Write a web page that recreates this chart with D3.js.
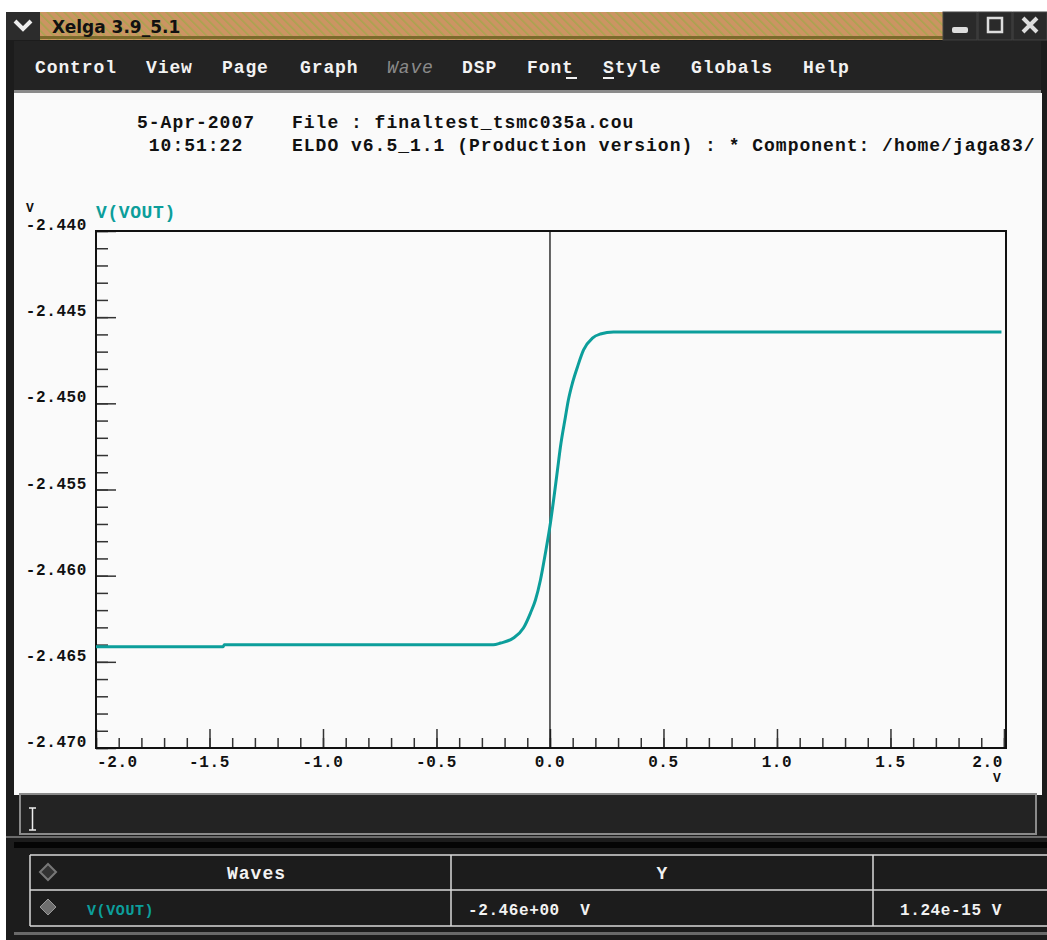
<!DOCTYPE html>
<html>
<head>
<meta charset="utf-8">
<script src="https://cdnjs.cloudflare.com/ajax/libs/d3/7.8.5/d3.min.js"></script>
<style>
  body { margin: 0; background: #fff; }
  svg text { font-family: 'Liberation Mono', 'DejaVu Sans Mono', monospace; font-weight: bold; }
</style>
</head>
<body>
<div id="chart"></div>
<script>
(function() {

  // curve V(VOUT)
  const curveX = [-2.0, -1.44, -1.435, -0.25, -0.218, -0.161, -0.117, -0.086, -0.064, -0.042,
    -0.020, 0.002, 0.020, 0.033, 0.046, 0.068, 0.081, 0.099, 0.121, 0.148, 0.187, 0.222, 0.280, 1.989];
  const curveY = [-2.46412, -2.46412, -2.46401, -2.46401, -2.46391, -2.46362, -2.46304, -2.46217,
    -2.46141, -2.46025, -2.45868, -2.45694, -2.45520, -2.45387, -2.45253, -2.45079, -2.44981,
    -2.44882, -2.44789, -2.44690, -2.44621, -2.44598, -2.44586, -2.44586];

  const xMajor = [-2.0, -1.5, -1.0, -0.5, 0.0, 0.5, 1.0, 1.5, 2.0];
  const xLabels = ['-2.0', '-1.5', '-1.0', '-0.5', '0.0', '0.5', '1.0', '1.5', '2.0'];
  const yMajor = [-2.440, -2.445, -2.450, -2.455, -2.460, -2.465, -2.470];
  const yLabels = ['-2.440', '-2.445', '-2.450', '-2.455', '-2.460', '-2.465', '-2.470'];

  const menuItems = ['Control', 'View', 'Page', 'Graph', 'Wave', 'DSP', 'Font', 'Style', 'Globals', 'Help'];
  const menuX = [35, 146, 222, 300, 387, 462, 527, 603, 691, 803];
  const headerLeft = ['5-Apr-2007', ' 10:51:22'];
  const headerRight = ['File : finaltest_tsmc035a.cou',
    'ELDO v6.5_1.1 (Production version) : * Component: /home/jaga83/'];
  const tableHead = ['Waves', 'Y'];
  const tableRow = ['V(VOUT)', '-2.46e+00  V', '1.24e-15 V'];

  const teal = '#0c9e9b';
  const W = 1047, H = 940;

  const svg = d3.select('#chart').append('svg')
    .attr('width', W)
    .attr('height', H);

  const defs = svg.append('defs');
  const hatch = defs.append('pattern')
    .attr('id', 'hatch')
    .attr('patternUnits', 'userSpaceOnUse')
    .attr('width', 6)
    .attr('height', 6)
    .attr('patternTransform', 'rotate(-45)');
  hatch.append('rect').attr('width', 6).attr('height', 6).attr('fill', '#cc9463');
  hatch.append('rect').attr('width', 1.6).attr('height', 6).attr('fill', '#a8a44e');

  // window frame
  svg.append('rect').attr('x', 6).attr('y', 12).attr('width', W - 6).attr('height', H - 12).attr('fill', '#1c1c1c');

  // title bar
  svg.append('rect').attr('x', 40).attr('y', 12).attr('width', 903).attr('height', 28).attr('fill', 'url(#hatch)');
  svg.append('rect').attr('x', 40).attr('y', 36).attr('width', 903).attr('height', 3).attr('fill', '#7d6a2c');
  svg.append('rect').attr('x', 6).attr('y', 12).attr('width', 34).attr('height', 28).attr('fill', '#2c2c2c');
  svg.append('path')
    .attr('d', 'M15,21 L23,29 L31,21')
    .attr('fill', 'none').attr('stroke', '#eee').attr('stroke-width', 4);
  svg.append('text')
    .attr('x', 52).attr('y', 33)
    .style('font-family', "'DejaVu Sans', sans-serif")
    .style('font-size', '17px')
    .attr('fill', '#111')
    .text('Xelga 3.9_5.1');
  [943, 978, 1013].forEach((bx, i) => {
    svg.append('rect').attr('x', bx).attr('y', 12).attr('width', 34).attr('height', 28)
      .attr('fill', '#2a2a2a').attr('stroke', '#444');
    if (i === 0) svg.append('rect').attr('x', bx + 9).attr('y', 27).attr('width', 16).attr('height', 6).attr('rx', 2).attr('fill', '#ddd');
    if (i === 1) svg.append('rect').attr('x', bx + 10).attr('y', 18).attr('width', 14).attr('height', 14)
      .attr('fill', 'none').attr('stroke', '#ddd').attr('stroke-width', 2.5);
    if (i === 2) svg.append('path').attr('d', `M${bx + 10},18 L${bx + 24},32 M${bx + 24},18 L${bx + 10},32`)
      .attr('stroke', '#ddd').attr('stroke-width', 4);
  });

  // menu bar
  svg.append('rect').attr('x', 14).attr('y', 41).attr('width', W - 20).attr('height', 50).attr('fill', '#232323');
  svg.append('rect').attr('x', 14).attr('y', 90).attr('width', W - 20).attr('height', 3).attr('fill', '#8a8a8a');
  menuItems.forEach((m, i) => {
    svg.append('text')
      .attr('x', menuX[i]).attr('y', 73)
      .style('font-size', '18px')
      .style('letter-spacing', '0.9px')
      .attr('fill', m === 'Wave' ? '#8a8a8a' : '#f2f2f2')
      .style('font-style', m === 'Wave' ? 'italic' : null)
      .style('font-weight', m === 'Wave' ? 'normal' : null)
      .text(m);
  });
  // mnemonic underlines
  svg.append('rect').attr('x', 566).attr('y', 77).attr('width', 11).attr('height', 2).attr('fill', '#f2f2f2');
  svg.append('rect').attr('x', 603).attr('y', 77).attr('width', 11).attr('height', 2).attr('fill', '#f2f2f2');

  // white page
  svg.append('rect').attr('x', 14).attr('y', 93).attr('width', 1028).attr('height', 702).attr('fill', '#fafafa');

  // header text
  headerLeft.forEach((t, i) => {
    svg.append('text').attr('x', 137).attr('y', 128 + i * 23)
      .style('font-size', '18px').style('letter-spacing', '1px').style('white-space', 'pre')
      .attr('fill', '#111').text(t);
  });
  headerRight.forEach((t, i) => {
    svg.append('text').attr('x', 292).attr('y', 128 + i * 23)
      .style('font-size', '18px').style('letter-spacing', '1px').style('white-space', 'pre')
      .attr('fill', '#111').text(t);
  });

  // plot
  const plot = { left: 96, top: 231, right: 1006, bottom: 748 };
  const x = d3.scaleLinear().domain([-2.0, 2.009]).range([plot.left, plot.right]);
  const y = d3.scaleLinear().domain([-2.470, -2.440]).range([plot.bottom, plot.top]);

  // minor ticks
  svg.append('g')
    .attr('transform', `translate(${plot.left},0)`)
    .call(d3.axisRight(y).ticks(30).tickSize(12).tickFormat(''))
    .call(g => g.select('.domain').remove())
    .call(g => g.selectAll('line').attr('stroke', '#333').attr('stroke-width', 1.5));
  svg.append('g')
    .attr('transform', `translate(${plot.left},0)`)
    .call(d3.axisRight(y).tickValues(yMajor).tickSize(20).tickFormat(''))
    .call(g => g.select('.domain').remove())
    .call(g => g.selectAll('line').attr('stroke', '#333').attr('stroke-width', 1.5));
  svg.append('g')
    .attr('transform', `translate(0,${plot.bottom})`)
    .call(d3.axisTop(x).ticks(40).tickSize(10).tickFormat(''))
    .call(g => g.select('.domain').remove())
    .call(g => g.selectAll('line').attr('stroke', '#333').attr('stroke-width', 1.5));
  svg.append('g')
    .attr('transform', `translate(0,${plot.bottom})`)
    .call(d3.axisTop(x).tickValues(xMajor).tickSize(19).tickFormat(''))
    .call(g => g.select('.domain').remove())
    .call(g => g.selectAll('line').attr('stroke', '#333').attr('stroke-width', 1.5));

  // frame
  svg.append('rect')
    .attr('x', plot.left).attr('y', plot.top)
    .attr('width', plot.right - plot.left).attr('height', plot.bottom - plot.top)
    .attr('fill', 'none').attr('stroke', '#111').attr('stroke-width', 2);
  // zero line
  svg.append('line')
    .attr('x1', x(0)).attr('x2', x(0))
    .attr('y1', plot.top).attr('y2', plot.bottom)
    .attr('stroke', '#111').attr('stroke-width', 1.3);

  // y labels
  svg.append('g').selectAll('text')
    .data(yMajor)
    .enter().append('text')
      .attr('x', 87)
      .attr('y', d => y(d) - 1)
      .attr('text-anchor', 'end')
      .style('font-size', '16px')
      .style('letter-spacing', '0.6px')
      .attr('fill', '#111')
      .text((d, i) => yLabels[i]);

  // x labels
  svg.append('g').selectAll('text')
    .data(xMajor)
    .enter().append('text')
      .attr('x', (d, i) => i === 0 ? x(d) + 1 : (i === xMajor.length - 1 ? x(d) - 1 : x(d)))
      .attr('y', 767)
      .attr('text-anchor', (d, i) => i === 0 ? 'start' : (i === xMajor.length - 1 ? 'end' : 'middle'))
      .style('font-size', '16px')
      .style('letter-spacing', '0.6px')
      .attr('fill', '#111')
      .text((d, i) => xLabels[i]);

  // units
  svg.append('text').attr('x', 997).attr('y', 782).attr('text-anchor', 'middle')
    .style('font-size', '13px').attr('fill', '#111').text('V');
  svg.append('text').attr('x', 30).attr('y', 212).attr('text-anchor', 'middle')
    .style('font-size', '13px').attr('fill', '#111').text('V');
  svg.append('text').attr('x', 96).attr('y', 218)
    .style('font-size', '18px').style('letter-spacing', '0.6px')
    .attr('fill', teal).text('V(VOUT)');

  // curve
  const line = d3.line()
    .x(d => x(d[0]))
    .y(d => y(d[1]))
    .curve(d3.curveMonotoneX);
  svg.append('path')
    .datum(curveX.map((v, i) => [v, curveY[i]]))
    .attr('d', line)
    .attr('fill', 'none')
    .attr('stroke', teal)
    .attr('stroke-width', 3);

  // command input
  svg.append('rect').attr('x', 20).attr('y', 794).attr('width', 1016).attr('height', 40)
    .attr('fill', '#232323').attr('stroke', '#8a8a8a').attr('stroke-width', 2);
  svg.append('path').attr('d', 'M29,808 L36,808 M32.5,808 L32.5,830 M29,830 L36,830')
    .attr('stroke', '#eee').attr('stroke-width', 1.5).attr('fill', 'none');

  // wave table
  svg.append('rect').attr('x', 6).attr('y', 836).attr('width', W - 6).attr('height', 2).attr('fill', '#6a6a6a');
  svg.append('rect').attr('x', 14).attr('y', 842).attr('width', W - 14).attr('height', 6).attr('fill', '#050505');
  const cols = [30, 451, 873, 1047];
  const rows = [855, 890, 926];
  rows.forEach(ry => {
    svg.append('line').attr('x1', cols[0]).attr('x2', W).attr('y1', ry).attr('y2', ry)
      .attr('stroke', '#d8d8d8').attr('stroke-width', 1.5);
  });
  cols.slice(0, 3).forEach(cx => {
    svg.append('line').attr('x1', cx).attr('x2', cx).attr('y1', rows[0]).attr('y2', rows[2])
      .attr('stroke', '#d8d8d8').attr('stroke-width', 1.5);
  });
  svg.append('rect').attr('x', 14).attr('y', 932).attr('width', W - 14).attr('height', 3).attr('fill', '#6a6a6a');

  // diamonds
  svg.append('path').attr('d', 'M48,864 L56,872 L48,880 L40,872 Z')
    .attr('fill', '#333').attr('stroke', '#777').attr('stroke-width', 2);
  svg.append('path').attr('d', 'M48,899 L56,907 L48,915 L40,907 Z')
    .attr('fill', '#6e6e6e').attr('stroke', '#999').attr('stroke-width', 1);

  svg.append('text').attr('x', (cols[0] + cols[1]) / 2 + 16).attr('y', 879).attr('text-anchor', 'middle')
    .style('font-size', '18px').style('letter-spacing', '1px').attr('fill', '#f2f2f2').text(tableHead[0]);
  svg.append('text').attr('x', (cols[1] + cols[2]) / 2).attr('y', 879).attr('text-anchor', 'middle')
    .style('font-size', '18px').attr('fill', '#f2f2f2').text(tableHead[1]);

  svg.append('text').attr('x', 87).attr('y', 915)
    .style('font-size', '15px').style('letter-spacing', '0.6px').attr('fill', teal).text(tableRow[0]);
  svg.append('text').attr('x', 468).attr('y', 915).style('white-space', 'pre')
    .style('font-size', '16px').style('letter-spacing', '0.6px').attr('fill', '#f2f2f2').text(tableRow[1]);
  svg.append('text').attr('x', 900).attr('y', 915).style('white-space', 'pre')
    .style('font-size', '16px').style('letter-spacing', '0.6px').attr('fill', '#f2f2f2').text(tableRow[2]);

}());
</script>
</body>
</html>
